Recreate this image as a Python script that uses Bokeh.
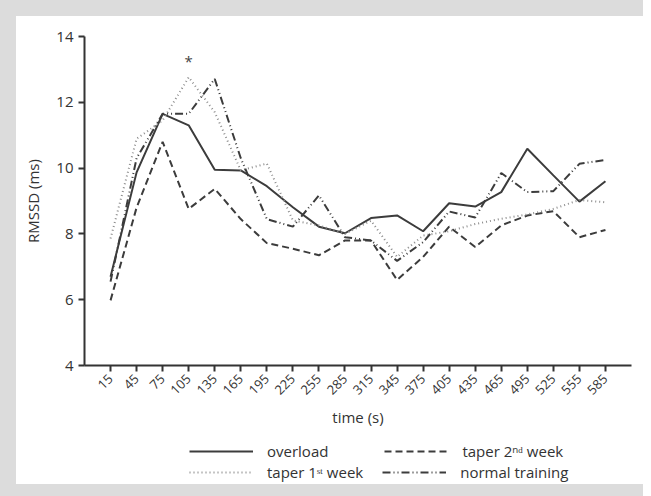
from bokeh.plotting import figure
from bokeh.models import Legend, LegendItem, FixedTicker, Range1d
from bokeh.layouts import column
from bokeh.embed import file_html
from bokeh.resources import INLINE
from bokeh.core.properties import value

# ---- data ----
times = [15, 45, 75, 105, 135, 165, 195, 225, 255, 285,
         315, 345, 375, 405, 435, 465, 495, 525, 555, 585]
time_labels = [str(t) for t in times]
overload = [6.70, 9.87, 11.65, 11.30, 9.95, 9.93, 9.45, 8.81, 8.22, 8.02,
            8.48, 8.56, 8.08, 8.93, 8.83, 9.27, 10.59, 9.78, 8.98, 9.60]
taper_2nd = [5.98, 8.80, 10.80, 8.76, 9.37, 8.45, 7.72, 7.55, 7.35, 7.80,
             7.80, 6.60, 7.30, 8.22, 7.60, 8.26, 8.56, 8.69, 7.90, 8.12]
taper_1st = [7.86, 10.89, 11.45, 12.76, 11.70, 9.93, 10.14, 8.41, 8.26, 8.00,
             8.40, 7.30, 7.95, 8.08, 8.30, 8.46, 8.59, 8.76, 9.03, 8.96]
normal = [6.55, 10.30, 11.65, 11.65, 12.71, 10.30, 8.45, 8.22, 9.17, 7.90,
          7.80, 7.18, 7.75, 8.68, 8.50, 9.85, 9.27, 9.30, 10.13, 10.25]
y_ticks = [4, 6, 8, 10, 12, 14]
star_x = [105]
star_y = [13.25]
series_labels = ["overload", "taper 2ⁿᵈ week", "taper 1ˢᵗ week", "normal training"]

FONT = "Open Sans"
DARK = "#3c3c3c"
styles = [dict(line_color=DARK, line_width=2),
          dict(line_color=DARK, line_width=2, line_dash="7 4"),
          dict(line_color="#8c8c8c", line_width=2, line_dash="1 3"),
          dict(line_color=DARK, line_width=2, line_dash="8 3 1 3 1 3")]
series = [overload, taper_2nd, taper_1st, normal]

p = figure(frame_width=547, frame_height=329,
           min_border_left=68, min_border_right=12,
           min_border_top=20, min_border_bottom=70,
           x_range=Range1d(-15, 615), y_range=Range1d(4, 14),
           output_backend="svg", toolbar_location=None,
           background_fill_color=None, border_fill_color="white")
p.outline_line_color = None
p.grid.visible = False

for ys, st in zip(series, styles):
    p.line(times, ys, **st)

p.text(x=star_x, y=star_y, text=["*"], text_align="center", text_baseline="middle",
       text_font=value(FONT), text_font_size="15px", text_color="#444444")

# axes
p.xaxis.ticker = FixedTicker(ticks=times)
p.xaxis.major_label_overrides = {t: l for t, l in zip(times, time_labels)}
p.xaxis.major_label_orientation = 0.785398
p.yaxis.ticker = FixedTicker(ticks=y_ticks)
for ax in (p.xaxis[0], p.yaxis[0]):
    ax.axis_line_color = "#333333"
    ax.axis_line_width = 2
    ax.major_tick_line_color = "#333333"
    ax.major_tick_line_width = 2
    ax.major_tick_in = 0
    ax.major_tick_out = 6
    ax.minor_tick_line_color = None
    ax.major_label_text_font = FONT
    ax.major_label_text_color = "#333333"
    ax.axis_label_text_font = FONT
    ax.axis_label_text_font_style = "normal"
    ax.axis_label_text_color = "#333333"
    ax.axis_label_text_font_size = "15px"
p.xaxis.major_label_text_font_size = "13px"
p.yaxis.major_label_text_font_size = "15px"
p.xaxis.axis_label = "time (s)"
p.yaxis.axis_label = "RMSSD (ms)"
p.xaxis.axis_label_standoff = 5
p.yaxis.axis_label_standoff = 10

# legend strip below the plot: same series, drawn outside its visible range
q = figure(width=627, height=49, x_range=p.x_range, y_range=Range1d(100, 101),
           x_axis_type=None, y_axis_type=None, min_border=0,
           output_backend="svg", toolbar_location=None,
           background_fill_color=None, border_fill_color="white")
q.outline_line_color = None
q.grid.visible = False
keys = [q.line(times, ys, **st) for ys, st in zip(series, styles)]

leg1 = Legend(items=[LegendItem(label=series_labels[0], renderers=[keys[0]]),
                     LegendItem(label=series_labels[1], renderers=[keys[1]])],
              orientation="horizontal", spacing=56, location=(105, 23))
leg2 = Legend(items=[LegendItem(label=series_labels[2], renderers=[keys[2]]),
                     LegendItem(label=series_labels[3], renderers=[keys[3]])],
              orientation="horizontal", spacing=19, location=(105, 2))
for lg in (leg1, leg2):
    lg.glyph_width = 64
    lg.glyph_height = 18
    lg.label_height = 18
    lg.label_standoff = 14
    lg.padding = 0
    lg.margin = 0
    lg.border_line_color = None
    lg.background_fill_alpha = 0
    lg.label_text_font = FONT
    lg.label_text_font_size = "15px"
    lg.label_text_color = "#333333"
    q.add_layout(lg, "center")

inner = column(p, q, spacing=0, styles={"background-color": "white"})
layout = column(inner, styles={"background-color": "#dcdcdc", "padding": "16px 0px 12px 16px"})

open("out.html", "w").write(file_html(layout, INLINE))
